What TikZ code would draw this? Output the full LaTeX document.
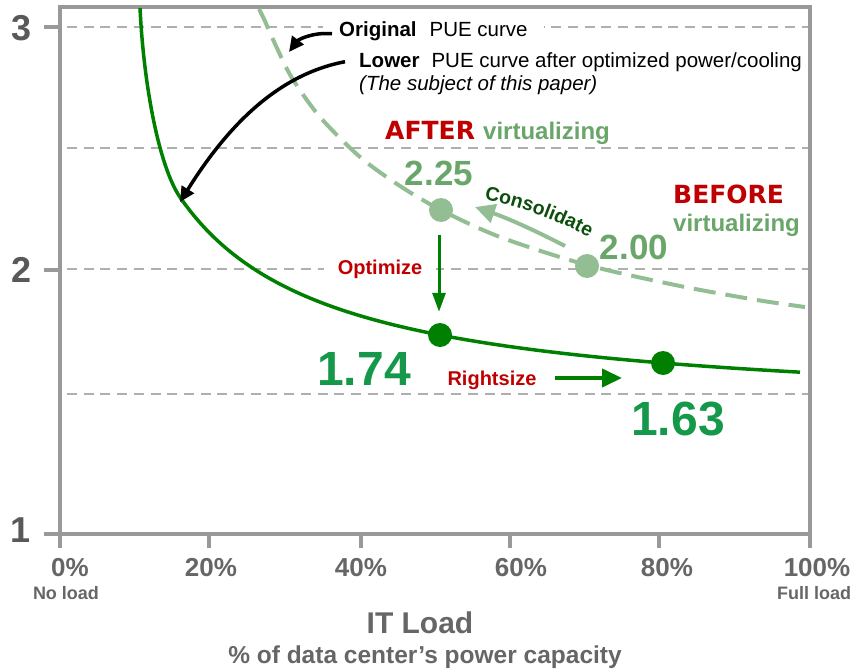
\documentclass[tikz,border=0pt]{standalone}
\usepackage{fontspec}
\setmainfont{Liberation Sans}
\newfontfamily\heavyfont{DejaVu Sans}
\usetikzlibrary{arrows.meta,decorations.text}
\definecolor{axisgray}{HTML}{999999}
\definecolor{gridgray}{HTML}{AFAFAF}
\definecolor{labgray}{HTML}{595959}
\definecolor{ticklab}{HTML}{666666}
\definecolor{curvegreen}{HTML}{008000}
\definecolor{lightgreen}{HTML}{93BD93}
\definecolor{midgreen}{HTML}{6AA66A}
\definecolor{bignum}{HTML}{15984A}
\definecolor{darkred}{HTML}{C00000}
\definecolor{consgreen}{HTML}{0B4F0B}
\newcommand\fsz[1]{\fontsize{#1}{#1}\selectfont}
\begin{document}
\begin{tikzpicture}[x=1pt,y=-1pt,
  axisline/.style={axisgray, line width=4pt},
  gridline/.style={gridgray, line width=2.5pt, dash pattern=on 10pt off 6.7pt},
  ylab/.style={font=\fsz{36}\bfseries, text=labgray, inner sep=0pt},
  xlab/.style={font=\fsz{26}\bfseries, text=ticklab, inner sep=0pt, anchor=base},
  xsub/.style={font=\fsz{18}\bfseries, text=ticklab, inner sep=0pt, anchor=base},
  note/.style={font=\fsz{20.5}, inner sep=0pt, anchor=base west},
  hot/.style={font=\heavyfont\fsz{25}\bfseries, text=darkred, inner sep=0pt, anchor=base west},
  virt/.style={font=\fsz{24}\bfseries, text=midgreen, inner sep=0pt, anchor=base west},
  val/.style={font=\fsz{35}\bfseries, text=midgreen, inner sep=0pt, anchor=base},
  big/.style={font=\fsz{48}\bfseries, text=bignum, inner sep=0pt, anchor=base},
  action/.style={font=\fsz{20}\bfseries, text=darkred, inner sep=0pt, anchor=base},
  dotlight/.style={circle, fill=lightgreen, minimum size=24pt, inner sep=0pt},
  dotdark/.style={circle, fill=curvegreen, minimum size=24pt, inner sep=0pt},
  blackarrow/.style={black, line width=3.5pt, -{Triangle[length=15pt,width=14pt]}},
  dashcurve/.style={lightgreen, line width=4pt, dash pattern=on 22pt off 10pt},
  solidcurve/.style={curvegreen, line width=3.5pt}
]
\useasboundingbox (0,0) rectangle (867,669);

% grid lines
\draw[gridline] (67,27) -- (808,27);
\draw[gridline] (67,148) -- (808,148);
\draw[gridline] (67,269) -- (808,269);
\draw[gridline] (67,394) -- (808,394);

% frame and ticks
\draw[axisline] (60,7) rectangle (810,534);
\draw[axisline] (44,27) -- (60,27);
\draw[axisline] (44,270) -- (60,270);
\draw[axisline] (44,534) -- (60,534);
\foreach \x in {60,209,361,510,659,810} \draw[axisline] (\x,534) -- (\x,548);

% y labels
\node[ylab] (y3) at (22,28) {3};
\node[ylab] (y2) at (22,270) {2};
\node[ylab] (y1) at (21,530) {1};

% x labels
\node[xlab] (x0) at (70,576) {0\%};
\node[xlab] (x20) at (211,576) {20\%};
\node[xlab] (x40) at (361,576) {40\%};
\node[xlab] (x60) at (521,576) {60\%};
\node[xlab] (x80) at (667,576) {80\%};
\node[xlab] (x100) at (817,576) {100\%};
\node[xsub] (noload) at (66,599) {No load};
\node[xsub] (fullload) at (814,599) {Full load};
\node[font=\fsz{30}\bfseries, text=ticklab, inner sep=0pt, anchor=base] (itload) at (420,633) {IT Load};
\node[font=\fsz{24.5}\bfseries, text=ticklab, inner sep=0pt, anchor=base] (capacity) at (425,663) {\% of data center’s power capacity};

% curves
\draw[dashcurve] plot[smooth] coordinates {(259,9) (264,19) (276,46) (292,78) (320,117) (360,157) (400,186) (441,210) (500,237) (587,265) (680,286) (757,300) (805,307)};
\draw[solidcurve] (140,8) .. controls (144,90) and (160,168) .. (180,197.2)
  -- plot[domain=180:800, samples=120] (\x, {414.5-325.96/((\x-30)/100)});

\coordinate (origtip) at (289,52);
\coordinate (lowertip) at (180,202);

% top notes
\node[note, fill=white, inner xsep=16pt, inner ysep=4pt] (orig) at (323,37) {\textbf{Original}\hspace{13pt}PUE curve};
\node[note] (lower) at (359,67) {\textbf{Lower}\hspace{12pt}PUE curve after optimized power/cooling};
\node[note] (subj) at (359,90) {\itshape (The subject of this paper)};
\draw[blackarrow] ([xshift=9pt,yshift=-2pt]orig.west) .. controls (312,32) and (298,40) .. (origtip);
\draw[blackarrow] ([xshift=-14pt]lower.west) .. controls (275,75) and (225,130) .. (lowertip);

% before / after labels
\node[hot] (after) at (385,139) {AFTER};
\node[virt] (aftervirt) at (483,139) {virtualizing};
\node[hot] (before) at (673,203) {BEFORE};
\node[virt] (beforevirt) at (673,231) {virtualizing};

% points
\node[dotlight] (p225) at (441,210) {};
\node[dotlight] (p200) at (587,266) {};
\node[dotdark] (p174) at (440,335) {};
\node[dotdark] (p163) at (663,363) {};

\node[val] (v225) at (439,185) {2.25};
\node[val] (v200) at (634,259) {2.00};
\node[big] (v174) at (364,385) {1.74};
\node[big] (v163) at (678,435) {1.63};

% consolidate
\coordinate (constail) at (565,246);
\coordinate (constip) at (475,207);
\draw[lightgreen, line width=4pt, -{Triangle[length=20pt,width=19pt]}] (constail) .. controls (540,233) and (510,219) .. (constip);
\path[decorate, decoration={text along path, text={|\fsz{19.5}\bfseries|Consolidate}, text color=consgreen, text align=center}] (475,198) .. controls (513,204) and (558,219) .. (597,242);

% optimize
\node[action, fill=white, inner xsep=14pt, inner ysep=3pt] (opt) at (380,274) {Optimize};
\draw[curvegreen, line width=3pt, -{Triangle[length=19pt,width=13pt]}] ([xshift=-2pt,yshift=-13pt]p225.south) -- ([yshift=11pt,xshift=-1pt]p174.north);

% rightsize
\node[action] (rs) at (492,385) {Rightsize};
\coordinate (rsa) at (555,378);
\coordinate (rsb) at (622,378);
\draw[curvegreen, line width=4pt, -{Triangle[length=20pt,width=18pt]}] (rsa) -- (rsb);
\end{tikzpicture}
\end{document}
